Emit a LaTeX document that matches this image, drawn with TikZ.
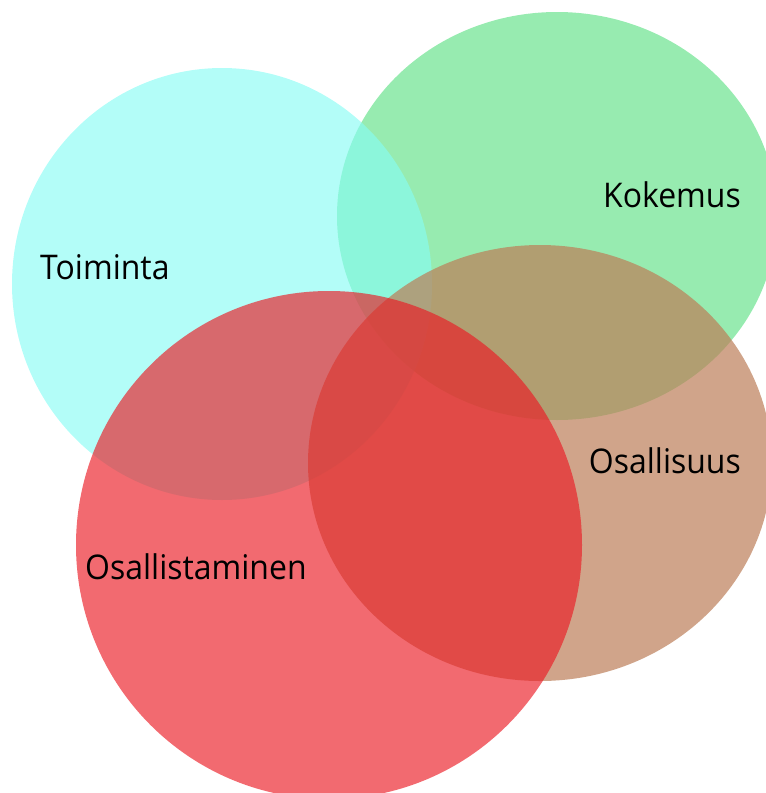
\documentclass[tikz,border=0pt]{standalone}
\usepackage{fontspec}
\setmainfont{Open Sans}[FakeStretch=0.94]
\definecolor{cgreen}{RGB}{90,224,130}
\definecolor{ccyan}{RGB}{135,252,244}
\definecolor{cbrown}{RGB}{188,126,88}
\definecolor{cred}{RGB}{235,26,35}
\tikzset{
  blob/.style={fill=#1},
  lbl/.style={inner sep=0pt, font=\fontsize{34}{40}\selectfont, text=black}
}
\begin{document}
\begin{tikzpicture}[x=1pt,y=-1pt]
\useasboundingbox (0,0) rectangle (766,793);
\clip (0,0) rectangle (766,793);
\fill[cgreen, fill opacity=0.63] (557,216) ellipse [x radius=220, y radius=204];
\fill[ccyan, fill opacity=0.63] (222,284) ellipse [x radius=210, y radius=216];
\fill[cbrown, fill opacity=0.7] (540,463) ellipse [x radius=232, y radius=218];
\fill[cred, fill opacity=0.65] (329,545) ellipse [x radius=253, y radius=254];
\node[lbl, anchor=base west] (toim) at (40,279) {Toiminta};
\node[lbl, anchor=base east] (koke) at (741,207) {Kokemus};
\node[lbl, anchor=base east] (osus) at (741,473) {Osallisuus};
\node[lbl, anchor=base west] (osta) at (85,579) {Osallistaminen};
\end{tikzpicture}
\end{document}
